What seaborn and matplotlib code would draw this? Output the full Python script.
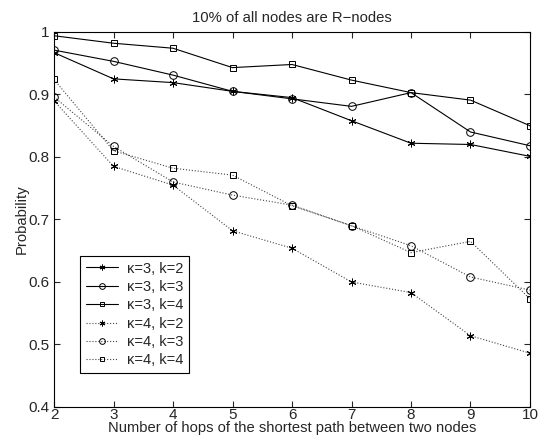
"""Probability vs. hop count, 10% R-nodes."""

import matplotlib
matplotlib.use("Agg")
import matplotlib.pyplot as plt
import pandas as pd
import seaborn as sns

HOPS = [2, 3, 4, 5, 6, 7, 8, 9, 10]

K3_K2 = [0.967, 0.925, 0.919, 0.905, 0.895, 0.858, 0.822, 0.820, 0.801]
K3_K3 = [0.971, 0.953, 0.931, 0.905, 0.893, 0.881, 0.903, 0.840, 0.818]
K3_K4 = [0.994, 0.982, 0.974, 0.943, 0.948, 0.923, 0.903, 0.891, 0.850]
K4_K2 = [0.890, 0.785, 0.755, 0.682, 0.654, 0.600, 0.583, 0.514, 0.486]
K4_K3 = [0.896, 0.817, 0.760, 0.739, 0.723, 0.690, 0.658, 0.608, 0.587]
K4_K4 = [0.924, 0.810, 0.782, 0.771, 0.722, 0.690, 0.647, 0.665, 0.573]

LABELS = ["κ=3, k=2", "κ=3, k=3", "κ=3, k=4", "κ=4, k=2", "κ=4, k=3", "κ=4, k=4"]
SERIES = [K3_K2, K3_K3, K3_K4, K4_K2, K4_K3, K4_K4]
MARKERS = [(6, 2, 0), "o", "s", (6, 2, 0), "o", "s"]
LINESTYLES = ["-", "-", "-", ":", ":", ":"]

sns.set_style("ticks")
plt.rcParams["font.family"] = ["Liberation Sans", "DejaVu Sans"]

fig = plt.figure(figsize=(5.39, 4.43), dpi=100)
ax = fig.add_axes([0.1002, 0.0813, 0.8831, 0.8465])

for label, values, marker, ls in zip(LABELS, SERIES, MARKERS, LINESTYLES):
    df = pd.DataFrame({"hops": HOPS, "prob": values})
    sns.lineplot(
        data=df, x="hops", y="prob", ax=ax,
        color="black" if ls == "-" else "#444444",
        linestyle=ls, linewidth=0.8,
        marker=marker, markersize=5.5 if marker != "s" else 4.8,
        markerfacecolor="none", markeredgecolor="black", markeredgewidth=0.7,
        label=label,
    )

ax.set_xlim(2, 10)
ax.set_ylim(0.4, 1.0)
ax.set_xticks(HOPS)
ax.set_yticks([0.4, 0.5, 0.6, 0.7, 0.8, 0.9, 1.0])
ax.set_yticklabels(["0.4", "0.5", "0.6", "0.7", "0.8", "0.9", "1"])
ax.tick_params(direction="in", top=True, right=True, labelsize=11, length=4)
ax.tick_params(axis="x", pad=1)
ax.tick_params(axis="y", pad=3)
for spine in ax.spines.values():
    spine.set_visible(True)
    spine.set_linewidth(0.8)
    spine.set_color("black")

ax.set_title("10% of all nodes are R\u2212nodes", fontsize=10.7, pad=7)
ax.set_xlabel("Number of hops of the shortest path between two nodes", fontsize=10.6, labelpad=-1)
ax.set_ylabel("Probability", fontsize=10.7, labelpad=0)

leg = ax.legend(
    loc="lower left", bbox_to_anchor=(0.055, 0.09), fontsize=10.5,
    frameon=True, fancybox=False, framealpha=1, edgecolor="black",
    handlelength=2.2, borderpad=0.4, labelspacing=0.3, handletextpad=0.6,
    markerscale=0.75, borderaxespad=0,
)
leg.get_frame().set_linewidth(0.8)

fig.savefig("out.png", dpi=100)
